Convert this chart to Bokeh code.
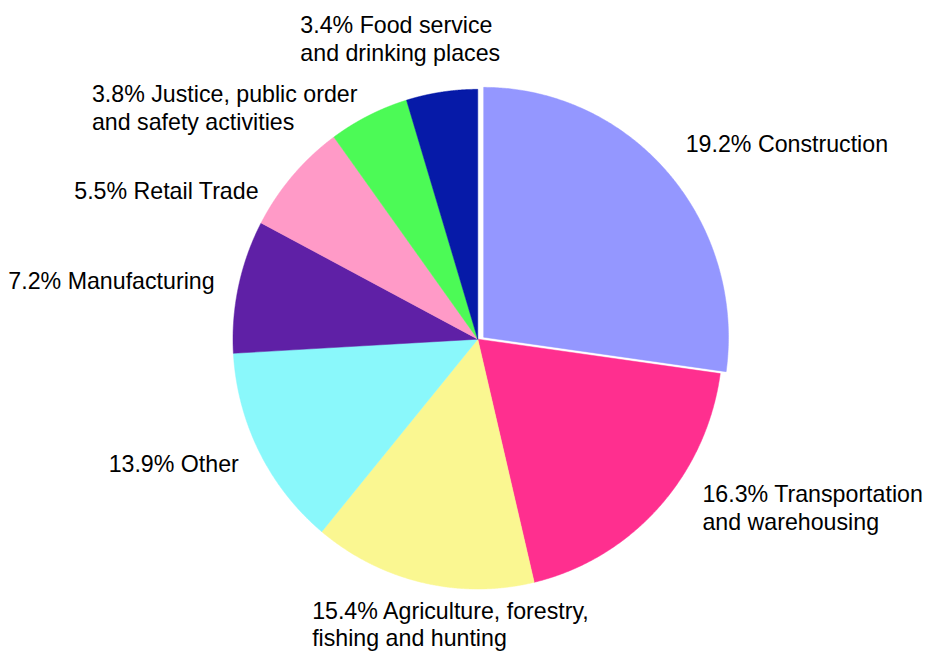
import numpy as np
from bokeh.plotting import figure
from bokeh.models import Range1d, ColumnDataSource
from bokeh.embed import file_html
from bokeh.resources import INLINE
from bokeh.core.properties import value

# ---- data (clockwise from 12 o'clock) ----
categories = ["Construction", "Transportation", "Agriculture", "Other",
              "Manufacturing", "Retail Trade", "Justice", "Food service"]
label_pct = [19.2, 16.3, 15.4, 13.9, 7.2, 5.5, 3.8, 3.4]
label_names = ["Construction",
               "Transportation\nand warehousing",
               "Agriculture, forestry,\nfishing and hunting",
               "Other",
               "Manufacturing",
               "Retail Trade",
               "Justice, public order\nand safety activities",
               "Food service\nand drinking places"]
# share of the pie each slice occupies, as drawn (percent)
slice_share = [27.2, 19.1, 14.7, 13.1, 8.6, 7.3, 5.3, 4.7]
colors = ["#9497FF", "#FF2F8F", "#FAF791", "#8AF8FB",
          "#5F20A6", "#FF9AC7", "#4CFA56", "#061AA8"]

# ---- layout (data units = reference pixels) ----
W, H = 929, 651
cx, cy, rx, ry = 485.5, 347.0, 249.0, 256.0
explode = {0: (6.0, -2.0)}
label_x = [697, 714, 317, 110, 8, 75, 93, 305]
label_y = [147.5, 505.5, 625.0, 474.5, 287.5, 195.5, 95.5, 25.0]
line_px = 28.5

p = figure(width=W, height=H, output_backend="svg", toolbar_location=None,
           x_range=Range1d(0, 945), y_range=Range1d(667, 0),
           min_border=0, background_fill_color="white",
           border_fill_color="white")
p.axis.visible = False
p.grid.visible = False
p.outline_line_color = None

shares = np.array(slice_share, dtype=float)
frac = shares / shares.sum()
cum = np.concatenate([[0.0], np.cumsum(frac)])
xs, ys = [], []
for i in range(len(shares)):
    t0 = np.deg2rad(90.0 - 360.0 * cum[i])
    t1 = np.deg2rad(90.0 - 360.0 * cum[i + 1])
    t = np.linspace(t0, t1, 240)
    ox, oy = explode.get(i, (0.0, 0.0))
    px = np.concatenate([[cx + ox], cx + ox + rx * np.cos(t)])
    py = np.concatenate([[cy + oy], cy + oy - ry * np.sin(t)])
    xs.append(px.tolist())
    ys.append(py.tolist())

src = ColumnDataSource(dict(xs=xs, ys=ys, color=colors, name=categories))
p.patches("xs", "ys", source=src, fill_color="color", line_color="color",
          line_width=0.5)

tx, ty, tt = [], [], []
for i, (pct, name) in enumerate(zip(label_pct, label_names)):
    lines = f"{pct:.1f}% {name}".split("\n")
    for j, ln in enumerate(lines):
        tx.append(label_x[i])
        ty.append(label_y[i] + j * line_px)
        tt.append(ln)

tsrc = ColumnDataSource(dict(x=tx, y=ty, text=tt))
p.text("x", "y", text="text", source=tsrc, text_font=value("Liberation Sans"),
       text_font_size=value("23.2px"), text_align="left",
       text_baseline="alphabetic", text_color="black")

open("out.html", "w").write(file_html(p, INLINE))
